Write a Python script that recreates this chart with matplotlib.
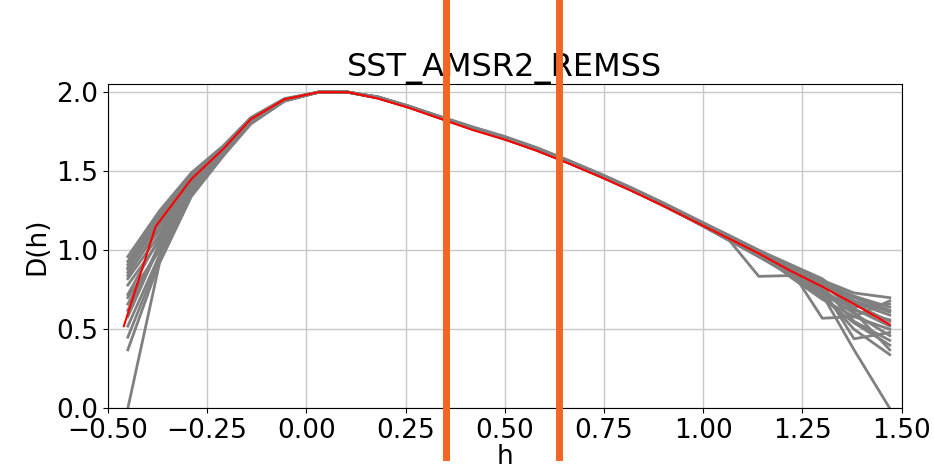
import matplotlib
matplotlib.use("Agg")
import matplotlib.pyplot as plt
import matplotlib.transforms as mtransforms

title = "SST_AMSR2_REMSS"

# h grid of the spectra
h_mean = [-0.46, -0.38, -0.29, -0.21, -0.14, -0.055, 0.03, 0.105, 0.18, 0.26, 0.34, 0.42, 0.50,
          0.58, 0.66, 0.74, 0.82, 0.90, 0.98, 1.06, 1.14, 1.22, 1.30, 1.38, 1.47]
h_gray = [-0.45, -0.37, -0.29, -0.21, -0.14, -0.055, 0.03, 0.105, 0.18, 0.26, 0.34, 0.42, 0.50,
          0.58, 0.66, 0.74, 0.82, 0.90, 0.98, 1.06, 1.14, 1.22, 1.30, 1.38, 1.47]

# mean spectrum (red)
d_mean = [0.52, 1.15, 1.45, 1.64, 1.83, 1.955, 2.0, 2.0, 1.96, 1.90, 1.83, 1.76, 1.70,
          1.63, 1.55, 1.465, 1.375, 1.28, 1.18, 1.08, 0.98, 0.87, 0.77, 0.66, 0.53]

# individual spectra (gray)
g01 = [0.96, 1.25, 1.49, 1.66, 1.84, 1.96, 2.0, 2.0, 1.97, 1.91, 1.845, 1.78, 1.72,
       1.65, 1.57, 1.485, 1.395, 1.30, 1.20, 1.10, 1.00, 0.90, 0.81, 0.73, 0.70]
g02 = [0.91, 1.21, 1.47, 1.65, 1.835, 1.955, 2.0, 2.0, 1.97, 1.91, 1.84, 1.775, 1.715,
       1.645, 1.565, 1.48, 1.39, 1.295, 1.19, 1.09, 0.99, 0.89, 0.80, 0.71, 0.64]
g03 = [0.86, 1.13, 1.44, 1.635, 1.825, 1.95, 2.0, 2.0, 1.965, 1.905, 1.835, 1.77, 1.71,
       1.64, 1.56, 1.475, 1.385, 1.29, 1.19, 1.08, 0.97, 0.87, 0.78, 0.67, 0.59]
g04 = [0.78, 1.06, 1.41, 1.625, 1.82, 1.95, 2.0, 2.0, 1.965, 1.905, 1.835, 1.77, 1.705,
       1.635, 1.555, 1.47, 1.38, 1.285, 1.18, 1.07, 0.97, 0.86, 0.74, 0.63, 0.52]
g05 = [0.66, 1.01, 1.39, 1.615, 1.815, 1.95, 2.0, 2.0, 1.965, 1.905, 1.835, 1.765, 1.705,
       1.635, 1.555, 1.47, 1.38, 1.285, 1.18, 1.08, 0.96, 0.86, 0.73, 0.60, 0.46]
g06 = [0.52, 0.97, 1.37, 1.605, 1.81, 1.945, 2.0, 2.0, 1.965, 1.905, 1.835, 1.77, 1.705,
       1.635, 1.555, 1.47, 1.38, 1.28, 1.18, 1.07, 0.96, 0.84, 0.70, 0.54, 0.40]
g07 = [0.37, 0.93, 1.35, 1.60, 1.80, 1.945, 2.0, 2.0, 1.965, 1.905, 1.835, 1.77, 1.705,
       1.635, 1.555, 1.47, 1.38, 1.285, 1.18, 1.08, 0.835, 0.84, 0.72, 0.50, 0.34]
g08 = [0.0, 0.92, 1.34, 1.595, 1.80, 1.945, 2.0, 2.0, 1.965, 1.905, 1.835, 1.77, 1.705,
       1.635, 1.555, 1.47, 1.38, 1.285, 1.18, 1.08, 0.97, 0.85, 0.75, 0.62, 0.56]
g09 = [0.72, 1.08, 1.42, 1.63, 1.82, 1.95, 2.0, 2.0, 1.965, 1.905, 1.835, 1.77, 1.705,
       1.635, 1.555, 1.47, 1.38, 1.285, 1.18, 1.08, 0.97, 0.86, 0.72, 0.37, 0.0]
g10 = [0.88, 1.18, 1.45, 1.64, 1.83, 1.955, 2.0, 2.0, 1.97, 1.91, 1.84, 1.775, 1.71,
       1.64, 1.56, 1.475, 1.385, 1.29, 1.19, 1.09, 0.99, 0.88, 0.57, 0.58, 0.68]
g11 = [0.58, 1.03, 1.40, 1.62, 1.815, 1.95, 2.0, 2.0, 1.965, 1.905, 1.835, 1.77, 1.705,
       1.635, 1.555, 1.47, 1.38, 1.285, 1.18, 1.08, 0.96, 0.85, 0.76, 0.44, 0.48]
g12 = [0.82, 1.10, 1.43, 1.63, 1.82, 1.95, 2.0, 2.0, 1.965, 1.905, 1.835, 1.77, 1.71,
       1.64, 1.56, 1.475, 1.385, 1.29, 1.19, 1.09, 0.98, 0.88, 0.79, 0.68, 0.61]
g13 = [0.93, 1.23, 1.48, 1.655, 1.835, 1.955, 2.0, 2.0, 1.97, 1.91, 1.84, 1.775, 1.715,
       1.645, 1.565, 1.48, 1.39, 1.295, 1.195, 1.10, 1.00, 0.91, 0.82, 0.66, 0.55]
g14 = [0.70, 1.00, 1.38, 1.61, 1.81, 1.95, 2.0, 2.0, 1.965, 1.905, 1.835, 1.77, 1.705,
       1.635, 1.555, 1.47, 1.38, 1.285, 1.18, 1.07, 0.98, 0.89, 0.78, 0.64, 0.66]
g15 = [0.45, 0.95, 1.36, 1.60, 1.805, 1.945, 2.0, 2.0, 1.965, 1.905, 1.835, 1.77, 1.705,
       1.635, 1.555, 1.47, 1.38, 1.285, 1.18, 1.08, 0.97, 0.87, 0.77, 0.55, 0.43]
g16 = [0.84, 1.16, 1.45, 1.64, 1.825, 1.95, 2.0, 2.0, 1.965, 1.905, 1.835, 1.77, 1.71,
       1.64, 1.56, 1.475, 1.385, 1.29, 1.19, 1.09, 0.99, 0.83, 0.69, 0.58, 0.50]
g17 = [0.62, 1.04, 1.40, 1.62, 1.815, 1.95, 2.0, 2.0, 1.965, 1.905, 1.835, 1.77, 1.705,
       1.635, 1.555, 1.47, 1.38, 1.285, 1.18, 1.07, 0.96, 0.87, 0.79, 0.70, 0.62]
g18 = [0.89, 1.20, 1.46, 1.645, 1.83, 1.955, 2.0, 2.0, 1.97, 1.91, 1.84, 1.775, 1.715,
       1.645, 1.56, 1.475, 1.385, 1.29, 1.19, 1.09, 0.99, 0.89, 0.80, 0.61, 0.37]
gray_spectra = [g01, g02, g03, g04, g05, g06, g07, g08, g09, g10, g11, g12,
                g13, g14, g15, g16, g17, g18]

# h positions of the orange markers
marks_h = [0.353, 0.636]

fig = plt.figure(figsize=(9.34, 4.71), dpi=100)
ax = fig.add_axes([0.1156, 0.133, 0.8498, 0.688])

for g in gray_spectra:
    ax.plot(h_gray, g, color="gray", lw=2)
ax.plot(h_mean, d_mean, color="red", lw=1.5)

ax.set_xlim(-0.5, 1.5)
ax.set_ylim(0, 2.05)
ax.set_xticks([-0.5, -0.25, 0.0, 0.25, 0.5, 0.75, 1.0, 1.25, 1.5])
ax.set_yticks([0.0, 0.5, 1.0, 1.5, 2.0])
ax.grid(True, color="#c8c8c8", lw=1)
ax.tick_params(labelsize=19)
ax.set_xlabel("h", fontsize=19, labelpad=0)
ax.set_ylabel("D(h)", fontsize=19)
ax.set_title(title, fontsize=23, pad=3)

trans = mtransforms.blended_transform_factory(ax.transData, fig.transFigure)
for x in marks_h:
    ax.plot([x, x], [0.03, 1.0], color="#f26522", lw=5, transform=trans, clip_on=False, zorder=5)

fig.savefig("out.png", dpi=100)
